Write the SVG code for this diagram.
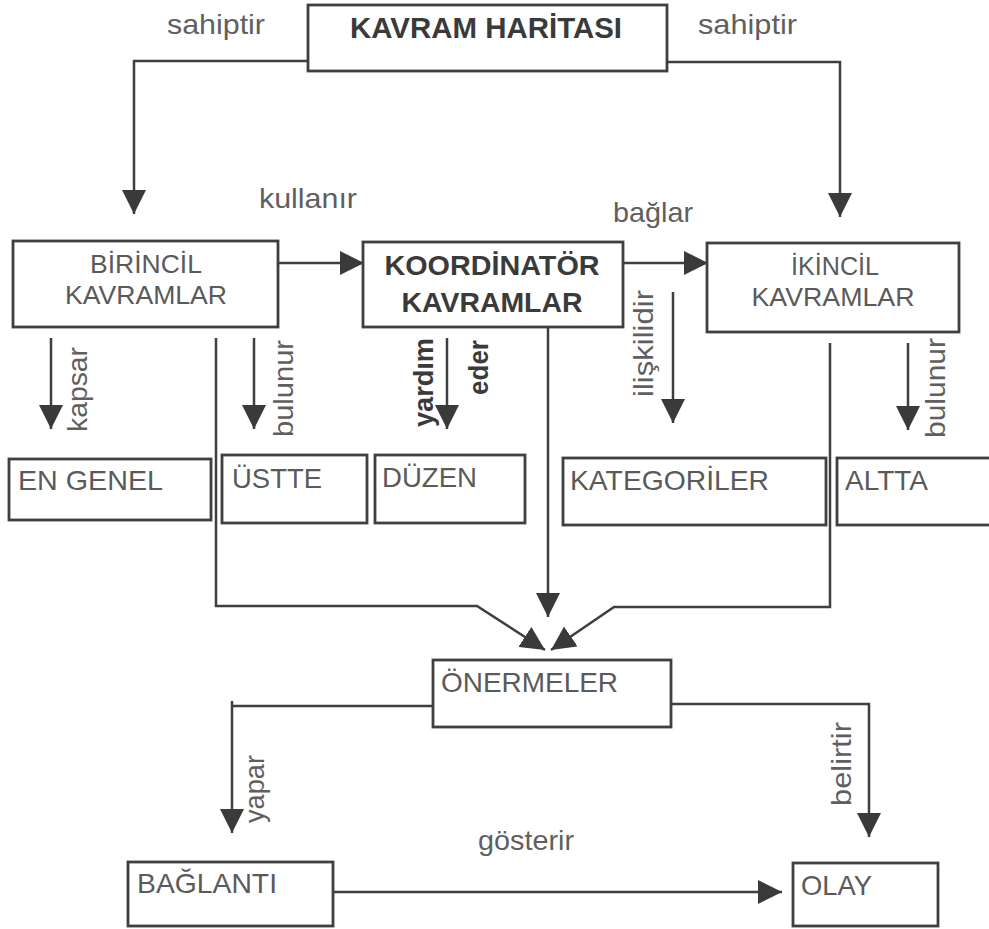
<svg xmlns="http://www.w3.org/2000/svg" width="989" height="929" viewBox="0 0 989 929">
<defs>
<marker id="ah" markerUnits="userSpaceOnUse" markerWidth="24" markerHeight="24" viewBox="0 0 24 24" refX="24" refY="12" orient="auto">
<path d="M0,0 L24,12 L0,24 Z" fill="#3a3a3a"/>
</marker>
<style>
.bx{fill:#fff;stroke:#3f3f3f;stroke-width:2.8}
.ln{fill:none;stroke:#3f3f3f;stroke-width:2.5}
.ar{fill:none;stroke:#3f3f3f;stroke-width:2.5;marker-end:url(#ah)}
.t{font-family:"Liberation Sans",Arial,sans-serif;font-size:28px;fill:#5a5a5a}
.tm{font-family:"Liberation Sans",Arial,sans-serif;font-size:26px;fill:#5a5a5a}
.tb{font-family:"Liberation Sans",Arial,sans-serif;font-size:28px;font-weight:bold;fill:#3a3a3a}
.lb{font-family:"Liberation Sans",Arial,sans-serif;font-size:28px;fill:#5f5f5f}
.lbb{font-family:"Liberation Sans",Arial,sans-serif;font-size:27px;font-weight:bold;fill:#3a3a3a}
</style>
</defs>
<rect width="989" height="929" fill="#fff"/>

<g id="connectors">
<path class="ar" d="M308,61 H134 V214"/>
<path class="ar" d="M667,62 H840 V217"/>
<path class="ar" d="M278,263 H364"/>
<path class="ar" d="M623,263 H708"/>
<path class="ar" d="M51,338 V429"/>
<path class="ar" d="M254,338 V429"/>
<path class="ar" d="M447,338 V429"/>
<path class="ar" d="M673,292 V423"/>
<path class="ar" d="M908,343 V430"/>
<path class="ar" d="M216,338 V606 H477 L545,650"/>
<path class="ar" d="M830,343 V607 H614 L551,650"/>
<path class="ar" d="M548,327 V617"/>
<path class="ln" d="M433,706 H232"/>
<path class="ar" d="M232,701 V833"/>
<path class="ar" d="M671,704 H869 V837"/>
<path class="ar" d="M333,892 H782"/>
</g>

<g id="labels">
<text class="lb" x="167" y="34" textLength="98" lengthAdjust="spacingAndGlyphs">sahiptir</text>
<text class="lb" x="698" y="34" textLength="99" lengthAdjust="spacingAndGlyphs">sahiptir</text>
<text class="lb" x="259" y="208" textLength="98" lengthAdjust="spacingAndGlyphs">kullanır</text>
<text class="lb" x="613" y="222" textLength="80" lengthAdjust="spacingAndGlyphs">bağlar</text>
<text class="lb" x="478" y="850" textLength="96" lengthAdjust="spacingAndGlyphs">gösterir</text>
<text class="lb" transform="translate(87,432) rotate(-90)" textLength="85" lengthAdjust="spacingAndGlyphs">kapsar</text>
<text class="lb" transform="translate(293,437) rotate(-90)" textLength="97" lengthAdjust="spacingAndGlyphs">bulunur</text>
<text class="lbb" transform="translate(433,427) rotate(-90)" textLength="89" lengthAdjust="spacingAndGlyphs">yardım</text>
<text class="lbb" transform="translate(488,395) rotate(-90)" textLength="55" lengthAdjust="spacingAndGlyphs">eder</text>
<text class="lb" transform="translate(653,397) rotate(-90)" textLength="107" lengthAdjust="spacingAndGlyphs">ilişkilidir</text>
<text class="lb" transform="translate(945,438) rotate(-90)" textLength="100" lengthAdjust="spacingAndGlyphs">bulunur</text>
<text class="lb" transform="translate(264,823) rotate(-90)" textLength="68" lengthAdjust="spacingAndGlyphs">yapar</text>
<text class="lb" transform="translate(851,806) rotate(-90)" textLength="84" lengthAdjust="spacingAndGlyphs">belirtir</text>
</g>

<g id="kavram-haritasi">
<rect class="bx" x="308" y="5" width="359" height="66"/>
<text class="tb" x="486" y="38" text-anchor="middle" style="font-size:29px" textLength="272" lengthAdjust="spacingAndGlyphs">KAVRAM HARİTASI</text>
</g>

<g id="birincil">
<rect class="bx" x="13" y="241" width="265" height="86"/>
<text class="tm" x="146" y="273" text-anchor="middle" textLength="112" lengthAdjust="spacingAndGlyphs">BİRİNCİL</text>
<text class="tm" x="146" y="304" text-anchor="middle" textLength="162" lengthAdjust="spacingAndGlyphs">KAVRAMLAR</text>
</g>

<g id="koordinator">
<rect class="bx" x="363" y="242" width="260" height="85"/>
<text class="tb" x="492" y="275" text-anchor="middle" textLength="215" lengthAdjust="spacingAndGlyphs">KOORDİNATÖR</text>
<text class="tb" x="492" y="312" text-anchor="middle" textLength="181" lengthAdjust="spacingAndGlyphs">KAVRAMLAR</text>
</g>

<g id="ikincil">
<rect class="bx" x="707" y="243" width="252" height="89"/>
<text class="tm" x="835" y="275" text-anchor="middle" textLength="88" lengthAdjust="spacingAndGlyphs">İKİNCİL</text>
<text class="tm" x="833" y="306" text-anchor="middle" textLength="163" lengthAdjust="spacingAndGlyphs">KAVRAMLAR</text>
</g>

<g id="en-genel">
<rect class="bx" x="9" y="459" width="202" height="61"/>
<text class="t" x="18" y="490" textLength="145" lengthAdjust="spacingAndGlyphs">EN GENEL</text>
</g>

<g id="ustte">
<rect class="bx" x="222" y="455" width="145" height="68"/>
<text class="t" x="232" y="488" textLength="90" lengthAdjust="spacingAndGlyphs">ÜSTTE</text>
</g>

<g id="duzen">
<rect class="bx" x="375" y="455" width="150" height="68"/>
<text class="t" x="382" y="487" textLength="95" lengthAdjust="spacingAndGlyphs">DÜZEN</text>
</g>

<g id="kategoriler">
<rect class="bx" x="563" y="458" width="263" height="67"/>
<text class="t" x="570" y="490" textLength="199" lengthAdjust="spacingAndGlyphs">KATEGORİLER</text>
</g>

<g id="altta">
<rect class="bx" x="837" y="458" width="160" height="67"/>
<text class="t" x="845" y="490">ALTTA</text>
</g>

<g id="onermeler">
<rect class="bx" x="433" y="660" width="238" height="67"/>
<text class="t" x="441" y="692" textLength="177" lengthAdjust="spacingAndGlyphs">ÖNERMELER</text>
</g>

<g id="baglanti">
<rect class="bx" x="128" y="862" width="205" height="64"/>
<text class="t" x="137" y="893" textLength="140" lengthAdjust="spacingAndGlyphs">BAĞLANTI</text>
</g>

<g id="olay">
<rect class="bx" x="793" y="863" width="145" height="63"/>
<text class="t" x="801" y="895" textLength="71" lengthAdjust="spacingAndGlyphs">OLAY</text>
</g>
</svg>
